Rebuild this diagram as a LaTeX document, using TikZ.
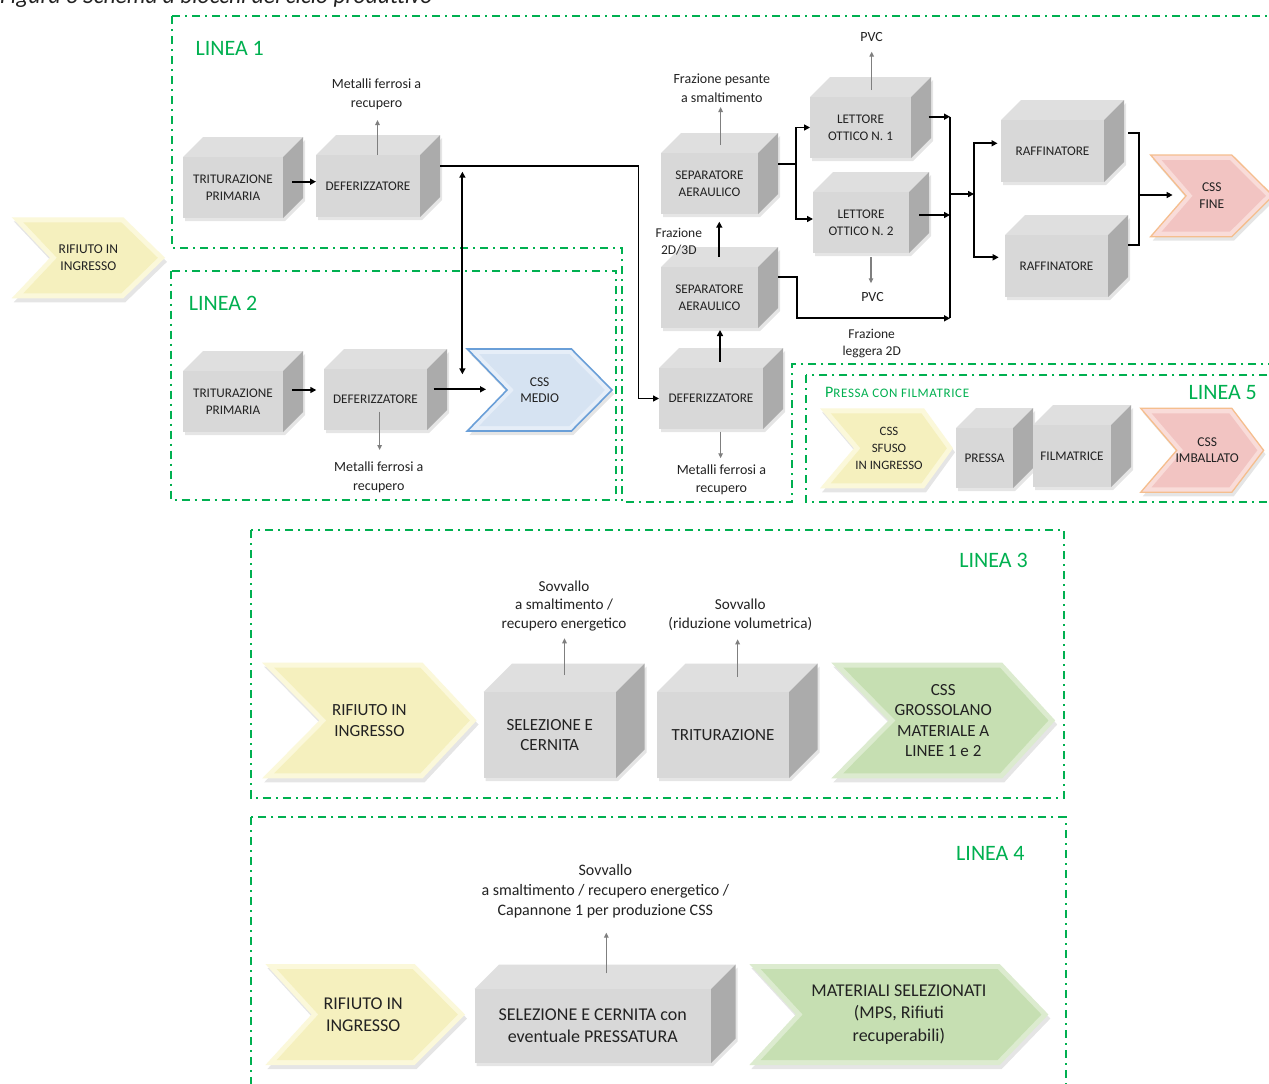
\documentclass[tikz,border=0pt]{standalone}
\usepackage{fontspec}
\setmainfont{Carlito}
\usetikzlibrary{arrows.meta}
\definecolor{lgreen}{HTML}{00B050}
\definecolor{txt}{HTML}{222222}
\definecolor{cfront}{HTML}{D8D8D8}
\definecolor{ctop}{HTML}{DFDFDF}
\definecolor{cside}{HTML}{ABABAB}
\definecolor{garr}{HTML}{7F7F7F}
\definecolor{yelB}{HTML}{FBF8DA}
\definecolor{yelF}{HTML}{F5F0BE}
\definecolor{bluB}{HTML}{E6EEF8}
\definecolor{bluF}{HTML}{D6E3F2}
\definecolor{bluE}{HTML}{6A9FD8}
\definecolor{pnkB}{HTML}{F9DCD9}
\definecolor{pnkF}{HTML}{F2C4C2}
\definecolor{pnkE}{HTML}{F5BE8E}
\definecolor{grnB}{HTML}{DCEBCF}
\definecolor{grnF}{HTML}{C6DFB2}
\newcommand\fBox{\fontsize{13.2}{16.6}\selectfont}
\newcommand\fLab{\fontsize{14}{18.7}\selectfont}
\newcommand\fLabS{\fontsize{13.5}{16.7}\selectfont}
\newcommand\fChev{\fontsize{13.5}{16.5}\selectfont}
\newcommand\fSm{\fontsize{12.8}{16.6}\selectfont}
\newcommand\fLine{\fontsize{22}{26}\selectfont}
\newcommand\fBig{\fontsize{17}{20.6}\selectfont}
\newcommand\fLabB{\fontsize{15.2}{18.6}\selectfont}
\newcommand\fHuge{\fontsize{18}{22.3}\selectfont}
\newcommand\fLabC{\fontsize{16}{20}\selectfont}
\tikzset{
  frame/.style={draw=lgreen, line width=1.8pt, dash pattern=on 8pt off 5pt on 2pt off 5pt},
  conn/.style={draw=black, line width=1.9pt, -{Triangle[length=6pt,width=6pt]}},
  dconn/.style={draw=black, line width=1.9pt, {Triangle[length=6pt,width=6pt]}-{Triangle[length=6pt,width=6pt]}},
  bus/.style={draw=black, line width=1.9pt},
  garrow/.style={draw=garr, line width=1.4pt, -{Triangle[length=5pt,width=4.5pt]}},
  lab/.style={text=txt, align=center, inner sep=0pt},
  linelab/.style={text=lgreen, inner sep=0pt, font=\fLine},
  cubefront/.style={fill=cfront, text=txt, align=center, inner sep=0pt, outer sep=0pt},
  cubetop/.style={fill=ctop},
  cubeside/.style={fill=cside},
  cubeshadow/.style={fill=black, opacity=0.10},
  chevtext/.style={text=txt, align=center, inner sep=0pt, outer sep=0pt},
  chevshadow/.style={fill=black, opacity=0.10},
  yelO/.style={fill=yelB}, yelI/.style={fill=yelF},
  bluO/.style={fill=bluB, draw=bluE, line width=1.6pt}, bluI/.style={fill=bluF},
  pnkO/.style={fill=pnkB, draw=pnkE, line width=1.3pt}, pnkI/.style={fill=pnkF},
  grnO/.style={fill=grnB}, grnI/.style={fill=grnF},
}
% #1 name #2 x1 #3 y1(front top) #4 x2 #5 y2(bottom) #6 depth #7 font #8 text
\newcommand\cubebox[8]{%
  \fill[cubeshadow, shift={(2,3)}] (#2,#3) -- (#4,#3) -- ({#4+#6},{#3-#6}) -- ({#4+#6},{#5-#6}) -- (#4,#5) -- (#2,#5) -- cycle;
  \fill[cubetop] (#2,#3) -- ({#2+#6},{#3-#6}) -- ({#4+#6},{#3-#6}) -- (#4,#3) -- cycle;
  \fill[cubeside] (#4,#3) -- ({#4+#6},{#3-#6}) -- ({#4+#6},{#5-#6}) -- (#4,#5) -- cycle;
  \node[cubefront, font=#7, minimum width={(#4-#2)*1pt}, minimum height={(#5-#3)*1pt}] (#1) at ({(#2+#4)/2},{(#3+#5)/2}) {#8};}
% #1 node options #2 xl #3 yt #4 xnotch #5 xtopright #6 xtip #7 yb #8 colour prefix #9 text
\newcommand\chev[9]{%
  \pgfmathsetmacro\chH{(#7-#3)/2}%
  \pgfmathsetmacro\chM{(#3+#7)/2}%
  \pgfmathsetmacro\chKn{5*sqrt((#4-#2)^2+\chH^2)/\chH}%
  \pgfmathsetmacro\chKt{5*sqrt((#6-#5)^2+\chH^2)/\chH}%
  \pgfmathsetmacro\chDn{5*(#4-#2)/\chH}%
  \pgfmathsetmacro\chDt{5*(#6-#5)/\chH}%
  \fill[chevshadow, shift={(2,4)}] (#2,#3) -- (#5,#3) -- (#6,\chM) -- (#5,#7) -- (#2,#7) -- (#4,\chM) -- cycle;
  \path[#8O] (#2,#3) -- (#5,#3) -- (#6,\chM) -- (#5,#7) -- (#2,#7) -- (#4,\chM) -- cycle;
  \path[#8I] ({#2+\chKn+\chDn},{#3+5}) -- ({#5-\chKt+\chDt},{#3+5}) -- ({#6-\chKt},\chM) -- ({#5-\chKt+\chDt},{#7-5}) -- ({#2+\chKn+\chDn},{#7-5}) -- ({#4+\chKn},\chM) -- cycle;
  \node[chevtext,#1,minimum width={(#6-#2)*1pt},minimum height={(#7-#3)*1pt}] at ({(#2+#6)/2},\chM) {#9};}
\begin{document}
\begin{tikzpicture}[x=1pt,y=-1pt]
\useasboundingbox (0,0) rectangle (1269,1084);
\clip (0,0) rectangle (1269,1084);
\fill[white] (0,0) rectangle (1269,1084);
\node[anchor=base west, inner sep=0pt, text=txt, font=\fontsize{23.5}{26}\selectfont\itshape] (cap) at (0,3) {Figura 3 Schema a blocchi del ciclo produttivo};
% frames
\draw[frame] (172,16) -- (1290,16) -- (1290,364) -- (792,364) -- (792,502) -- (622,502) -- (622,248) -- (172,248) -- cycle;
\draw[frame] (171,270.7) rectangle (616,500);
\draw[frame] (806,375) rectangle (1290,501.7);
\draw[frame] (250.6,530) rectangle (1064.2,797.7);
\draw[frame] (250.6,817.3) rectangle (1065.8,1110);
% line labels
\node[linelab] (l1) at (229.7,48.5) {LINEA 1};
\node[linelab] (l2) at (223,303.5) {LINEA 2};
\node[linelab] (l3) at (993.6,560) {LINEA 3};
\node[linelab] (l4) at (990.4,853) {LINEA 4};
\node[linelab] (l5) at (1222.7,393) {LINEA 5};
\node[text=lgreen, inner sep=0pt, anchor=west] (pf) at (825,392) {\fontsize{16}{18}\selectfont P\fontsize{13}{18}\selectfont\addfontfeature{LetterSpace=5}RESSA CON FILMATRICE};
% cubes
\cubebox{trit1}{183}{157}{283}{218}{20}{\fBox}{TRITURAZIONE\\PRIMARIA}
\cubebox{def1}{316}{155}{420}{217}{20}{\fBox}{DEFERIZZATORE}
\cubebox{trit2}{183}{371}{283}{432}{20}{\fBox}{TRITURAZIONE\\PRIMARIA}
\cubebox{def2}{324}{369}{427}{430}{20}{\fBox}{DEFERIZZATORE}
\cubebox{sep1}{661}{153}{758}{214}{20}{\fBox}{SEPARATORE\\AERAULICO}
\cubebox{sep2}{661}{267}{758}{328}{20}{\fBox}{SEPARATORE\\AERAULICO}
\cubebox{def3}{659}{368}{763}{429}{20}{\fBox}{DEFERIZZATORE}
\cubebox{lett1}{810}{97}{911}{158}{20}{\fBox}{LETTORE\\OTTICO N. 1}
\cubebox{lett2}{813}{192}{909}{253}{20}{\fBox}{LETTORE\\OTTICO N. 2}
\cubebox{raff1}{1001}{120}{1104}{182}{20}{\fBox}{RAFFINATORE}
\cubebox{raff2}{1005}{235}{1108}{297}{20}{\fBox}{RAFFINATORE}
\cubebox{pressa}{956}{428}{1013}{488}{20}{\fBox}{PRESSA}
\cubebox{filma}{1033}{425}{1111}{487}{20}{\fBox}{FILMATRICE}
\cubebox{sel3}{483.5}{692}{616}{778}{28.5}{\fBig}{SELEZIONE E\\CERNITA}
\cubebox{trit3}{657}{692}{789}{778}{28.5}{\fBig}{TRITURAZIONE}
\cubebox{sel4}{474.5}{989}{711}{1063}{24.5}{\fHuge}{SELEZIONE E CERNITA con\\eventuale PRESSATURA}
% chevrons
\chev{name=rif1,font=\fChev}{11.7}{217.3}{50}{123.3}{165}{298.3}{yel}{RIFIUTO IN\\INGRESSO}
\chev{name=cssmedio,font=\fChev}{467.3}{349}{507}{571.4}{612}{431}{blu}{CSS\\MEDIO}
\chev{name=cssfine,font=\fChev}{1150.6}{155}{1186}{1231.8}{1273}{236.7}{pnk}{CSS\\FINE}
\chev{name=sfuso,font=\fSm,xshift=2.5pt}{820}{408.3}{853.9}{924}{953}{488.3}{yel}{CSS\\SFUSO\\IN INGRESSO}
\chev{name=imball,font=\fChev,xshift=5pt}{1140.7}{408.3}{1176.7}{1231.8}{1263.6}{492.3}{pnk}{CSS\\IMBALLATO}
\chev{name=rif3,font=\fBig}{262.2}{662.7}{319.4}{422.6}{476.6}{778.3}{yel}{RIFIUTO IN\\INGRESSO}
\chev{name=grosso,font=\fBig}{831.3}{662.7}{888.5}{1002.3}{1055.2}{778.3}{grn}{CSS\\GROSSOLANO\\MATERIALE A\\LINEE 1 e 2}
\chev{name=rif4,font=\fHuge,xshift=-2pt}{265.4}{964}{311.5}{414.7}{465}{1065}{yel}{RIFIUTO IN\\INGRESSO}
\chev{name=mater,font=\fHuge}{749.3}{964}{795.9}{999.7}{1048.4}{1065}{grn}{MATERIALI SELEZIONATI\\(MPS, Rifiuti\\recuperabili)}
% labels
\node[lab,font=\fLab] (lm1) at (376.5,94.5) {Metalli ferrosi a\\recupero};
\node[lab,font=\fLab] (lm2) at (378.8,477.2) {Metalli ferrosi a\\recupero};
\node[lab,font=\fLab] (lm3) at (721.4,479.7) {Metalli ferrosi a\\recupero};
\node[lab,font=\fLab] (lfp) at (721.8,88.5) {Frazione pesante\\a smaltimento};
\node[lab,font=\fLab] (pvc1) at (871.7,36.7) {PVC};
\node[lab,font=\fLab] (pvc2) at (872.5,296.7) {PVC};
\node[lab,font=\fLabS] (lf23) at (678.8,241.7) {Frazione\\2D/3D};
\node[lab,font=\fLabS] (lfl) at (871.7,343.4) {Frazione\\leggera 2D};
\node[lab,font=\fLabB] (ls3a) at (564,605.8) {Sovvallo\\a smaltimento /\\recupero energetico};
\node[lab,font=\fLabB] (ls3b) at (740.3,615) {Sovvallo\\(riduzione volumetrica)};
\node[lab,font=\fLabC] (ls4) at (605.3,891) {Sovvallo\\a smaltimento / recupero energetico /\\Capannone 1 per produzione CSS};
% grey arrows
\coordinate (g1) at (377.5,120);
\coordinate (g2) at (379.6,450);
\coordinate (g3) at (720.6,107);
\coordinate (g4) at (871.7,51.7);
\coordinate (g5) at (871,283.3);
\coordinate (g6) at (720.6,458.3);
\coordinate (g7) at (564.5,638.3);
\coordinate (g8) at (737.6,639.3);
\coordinate (g9) at (606.3,932.7);
\draw[garrow] (def1.north -| g1) -- (g1);
\draw[garrow] ([yshift=18.3pt]def2.south -| g2) -- (g2);
\draw[garrow] ([yshift=8pt]sep1.north -| g3) -- (g3);
\draw[garrow] ([yshift=7pt]lett1.north -| g4) -- (g4);
\draw[garrow] ([yshift=-4.3pt]lett2.south -| g5) -- (g5);
\draw[garrow] ([yshift=-2.7pt]def3.south -| g6) -- (g6);
\draw[garrow] ([yshift=17pt]sel3.north -| g7) -- (g7);
\draw[garrow] ([yshift=15.3pt]trit3.north -| g8) -- (g8);
\draw[garrow] ([yshift=15.7pt]sel4.north -| g9) -- (g9);
% black connectors
\draw[conn] ([xshift=9pt]trit1.east |- 0,181.7) -- (def1.west |- 0,181.7);
\draw[conn] ([xshift=20pt]def1.east |- 0,165.7) -| ([xshift=-20.5pt]def3.west) -- (def3.west);
\coordinate (va) at (462.4,171.7);
\coordinate (vb) at (462.4,374.3);
\draw[dconn] (va) -- (vb);
\draw[conn] ([xshift=9pt]trit2.east |- 0,390) -- ([xshift=-7.7pt]def2.west |- 0,390);
\draw[conn] ([xshift=6.5pt]def2.east |- 0,389.3) -- ([xshift=18.7pt]cssmedio.west |- 0,389.3);
\draw[conn] ([xshift=9.8pt,yshift=10pt]sep2.north) -- ([xshift=9.8pt,yshift=-7.7pt]sep1.south);
\draw[conn] ([xshift=9pt,yshift=6.3pt]def3.north) -- ([xshift=10.5pt,yshift=-2pt]sep2.south);
\coordinate (j1) at (796,164);
\draw[bus] ([xshift=20pt]sep1.east |- j1) -- (j1);
\draw[conn] (j1) |- (lett1.west);
\draw[conn] (j1) |- (lett2.west |- 0,219);
\coordinate (b1) at (950,116.7);
\coordinate (b2) at (950,318.3);
\draw[bus] (b1) -- (b2);
\draw[conn] ([xshift=17.5pt]lett1.east |- b1) -- (b1);
\draw[conn] ([xshift=10pt]lett2.east |- 0,215) -- (b1 |- 0,215);
\draw[conn] ([xshift=20pt]sep2.east |- 0,277.3) -| ([xshift=39pt]sep2.east |- b2) -- (b2);
\coordinate (j2) at (974,194);
\draw[conn] (b1 |- j2) -- (j2);
\draw[conn] (j2) |- ([xshift=-3.5pt]raff1.west |- 0,143.3);
\draw[conn] (j2) |- ([xshift=-6.3pt]raff2.west |- 0,257.3);
\coordinate (j3) at (1138.6,195);
\draw[bus] ([xshift=24.3pt]raff1.east |- 0,133.3) -| (j3) |- ([xshift=20.3pt]raff2.east |- 0,245);
\draw[conn] (j3) -- ([xshift=22pt]cssfine.west |- j3);
\end{tikzpicture}
\end{document}
